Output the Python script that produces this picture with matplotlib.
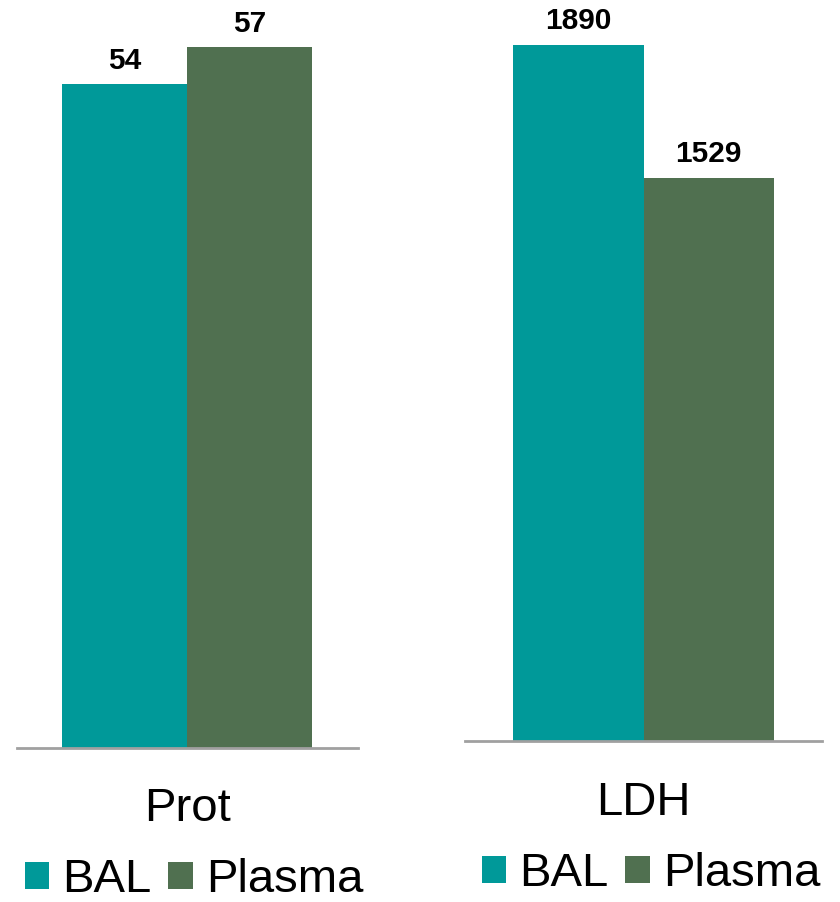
import matplotlib
matplotlib.use("Agg")
import matplotlib.pyplot as plt
from matplotlib.patches import Patch

plt.rcParams['font.family'] = ['Liberation Sans', 'DejaVu Sans']

# Data
series = ["BAL", "Plasma"]
colors = ["#009999", "#507050"]
prot_values = [54, 57]
ldh_values = [1890, 1529]
panels = [
    {"label": "Prot", "values": prot_values, "ymax": 60},
    {"label": "LDH", "values": ldh_values, "ymax": 2000},
]

W, H = 840, 902
fig = plt.figure(figsize=(W / 100, H / 100), dpi=100)

# pixel layouts: (x0, x1, baseline y, top y, half-xrange, label baseline y, legend center)
layouts = [
    (17, 358, 748, 748 - 60 * 12.29, 1.364, 821, (194, 880)),
    (465, 822, 741, 741 - 2000 * 0.3683, 1.373, 815, (651, 874)),
]

for panel, (x0, x1, yb, yt, half, lab_y, leg_c) in zip(panels, layouts):
    ax = fig.add_axes([x0 / W, (H - yb) / H, (x1 - x0) / W, (yb - yt) / H])
    vals = panel["values"]
    for i, (v, c) in enumerate(zip(vals, colors)):
        xpos = -0.5 + i
        ax.bar(xpos, v, width=1.0, color=c, edgecolor="none")
        ax.annotate(f"{v}", (xpos, v), xytext=(0, 7), textcoords="offset points",
                    ha="center", va="bottom", fontsize=21.5, fontweight="bold")
    ax.set_xlim(-half, half)
    ax.set_ylim(0, panel["ymax"])
    for s in ["top", "left", "right"]:
        ax.spines[s].set_visible(False)
    ax.spines["bottom"].set_color("#a0a0a0")
    ax.spines["bottom"].set_linewidth(2)
    ax.set_xticks([])
    ax.set_yticks([])
    ax.patch.set_alpha(0)

    fig.text(((x0 + x1) / 2) / W, (H - lab_y) / H, panel["label"],
             ha="center", va="baseline", fontsize=34)

    handles = [Patch(facecolor=c, edgecolor="none") for c in colors]
    fig.legend(handles, series, loc="center",
               bbox_to_anchor=(leg_c[0] / W, (H - leg_c[1]) / H),
               ncol=2, frameon=False, fontsize=34, handlelength=0.51,
               handleheight=0.51, handletextpad=0.28, columnspacing=0.36,
               borderpad=0, borderaxespad=0)

fig.savefig("out.png", dpi=100)
